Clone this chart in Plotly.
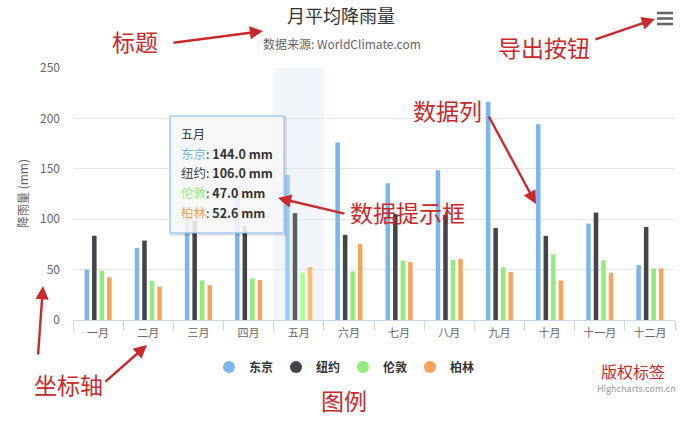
import plotly.graph_objects as go

# ---------------- data ----------------
months = ["一月", "二月", "三月", "四月", "五月", "六月",
          "七月", "八月", "九月", "十月", "十一月", "十二月"]
series_names = ["东京", "纽约", "伦敦", "柏林"]
tokyo = [49.9, 71.5, 106.4, 129.2, 144.0, 176.0, 135.6, 148.5, 216.4, 194.1, 95.6, 54.4]
new_york = [83.6, 78.8, 98.5, 93.4, 106.0, 84.5, 105.0, 104.3, 91.2, 83.5, 106.6, 92.3]
london = [48.9, 38.8, 39.3, 41.4, 47.0, 48.3, 59.0, 59.6, 52.4, 65.2, 59.3, 51.2]
berlin = [42.4, 33.2, 34.5, 39.7, 52.6, 75.5, 57.4, 60.4, 47.6, 39.1, 46.8, 51.1]
series_values = [tokyo, new_york, london, berlin]
y_tick_values = [0, 50, 100, 150, 200, 250]
hover_month = "五月"

title_text = "月平均降雨量"
subtitle_text = "数据来源: WorldClimate.com"
y_title_text = "降雨量 (mm)"
credits_text = "Highcharts.com.cn"
unit = "mm"

# callout labels (red annotations on the picture)
callouts = ["标题", "导出按钮", "数据列", "数据提示框", "坐标轴", "图例", "版权标签"]

# ---------------- style ----------------
colors = ["#7cb5ec", "#434348", "#90ed7d", "#f7a35c"]
hover_colors = ["#95ceff", "#5c5c61", "#a9ff96", "#ffbc75"]
FONT = "Noto Sans CJK SC, Noto Sans, sans-serif"
RED = "#c9282d"
W, H = 682, 423
L, R, T, B = 73, 675, 68, 320


def px(x):
    return (x - L) / (R - L)


def py(y):
    return (B - y) / (B - T)


hi = months.index(hover_month)

fig = go.Figure()
for name, vals, c, hc in zip(series_names, series_values, colors, hover_colors):
    bar_colors = [hc if i == hi else c for i in range(len(months))]
    fig.add_trace(go.Bar(x=months, y=vals, name=name, marker=dict(color=bar_colors, line=dict(width=0)),
                         showlegend=False, legendgroup=name, hoverinfo="skip"))
for name, c in zip(series_names, colors):
    fig.add_trace(go.Scatter(x=[None], y=[None], mode="markers", name="<b>" + name + "</b>",
                             marker=dict(color=c, size=12, symbol="circle"), legendgroup=name))

shapes = []
# hover crosshair band
shapes.append(dict(type="rect", xref="x", yref="paper", x0=hi - 0.5, x1=hi + 0.5, y0=0, y1=1,
                   fillcolor="rgba(204,214,235,0.25)", line=dict(width=0), layer="below"))
# export (hamburger) button
for yy in [13, 18.5, 24]:
    shapes.append(dict(type="line", xref="paper", yref="paper", x0=px(657), x1=px(673),
                       y0=py(yy), y1=py(yy), line=dict(color="#666666", width=2.6)))
# tooltip shadow + box
shapes.append(dict(type="rect", xref="paper", yref="paper", x0=px(171.5), x1=px(285.5),
                   y0=py(234.5), y1=py(117.5), fillcolor="rgba(0,0,0,0)",
                   line=dict(color="rgba(0,0,0,0.10)", width=3), layer="above"))
shapes.append(dict(type="rect", xref="paper", yref="paper", x0=px(170), x1=px(284),
                   y0=py(233), y1=py(116), fillcolor="rgba(247,247,247,0.88)",
                   line=dict(color="#7cb5ec", width=1), layer="above"))

ann = []
# title / subtitle
ann.append(dict(text=title_text, x=px(341), y=py(15), xref="paper", yref="paper", showarrow=False,
                xanchor="center", yanchor="middle", font=dict(size=18, color="#333333", family=FONT)))
ann.append(dict(text=subtitle_text, x=px(342), y=py(44), xref="paper", yref="paper", showarrow=False,
                xanchor="center", yanchor="middle", font=dict(size=12, color="#666666", family=FONT)))
# y axis title
ann.append(dict(text=y_title_text, x=px(22), y=py(194), xref="paper", yref="paper", showarrow=False,
                textangle=-90, xanchor="center", yanchor="middle",
                font=dict(size=12, color="#666666", family=FONT)))
# credits
ann.append(dict(text=credits_text, x=px(678), y=py(388), xref="paper", yref="paper", showarrow=False,
                xanchor="right", yanchor="middle", font=dict(size=9, color="#999999", family=FONT)))

# tooltip text
ann.append(dict(text=hover_month, x=px(179), y=py(133), xref="paper", yref="paper", showarrow=False,
                xanchor="left", yanchor="middle", font=dict(size=12, color="#333333", family=FONT)))
for k, (name, vals, c) in enumerate(zip(series_names, series_values, colors)):
    txt = "<span style='color:%s'>%s</span>: <b>%.1f %s</b>" % (c, name, vals[hi], unit)
    ann.append(dict(text=txt, x=px(179), y=py(153 + 19.8 * k), xref="paper", yref="paper",
                    showarrow=False, xanchor="left", yanchor="middle",
                    font=dict(size=12.5, color="#333333", family=FONT)))

# red callout labels
label_pos = {"标题": (135, 41), "导出按钮": (544, 47), "数据列": (447, 110), "数据提示框": (407, 212),
             "坐标轴": (68, 384), "图例": (344, 400), "版权标签": (633, 371)}
for lab in callouts:
    x, y = label_pos[lab]
    size = 16 if lab == "版权标签" else 23
    ann.append(dict(text=lab, x=px(x), y=py(y), xref="paper", yref="paper", showarrow=False,
                    xanchor="center", yanchor="middle", font=dict(size=size, color=RED, family=FONT)))

# arrows: (head_x, head_y, tail_x, tail_y)
arrows = [(263, 31, 172, 43), (655, 19, 594, 40), (536, 204, 488, 115), (278, 198, 346, 214),
          (147, 345, 104, 383), (43, 286, 38, 356)]
for hx, hy, tx, ty in arrows:
    ann.append(dict(text="", x=px(hx), y=py(hy), xref="paper", yref="paper", showarrow=True,
                    ax=tx - hx, ay=ty - hy, axref="pixel", ayref="pixel",
                    arrowhead=2, arrowsize=1.1, arrowwidth=2.4, arrowcolor=RED))

fig.update_layout(
    width=W, height=H,
    margin=dict(l=L, r=W - R, t=T, b=H - B, pad=0),
    paper_bgcolor="white", plot_bgcolor="white",
    font=dict(family=FONT, color="#666666", size=11),
    barmode="group", bargap=0.4, bargroupgap=0.4,
    showlegend=True,
    legend=dict(orientation="h", x=px(209), xanchor="left", y=py(367), yanchor="middle",
                font=dict(size=12, color="#333333", family=FONT), bgcolor="rgba(0,0,0,0)",
                entrywidth=22, entrywidthmode="pixels", itemwidth=30),
    shapes=shapes, annotations=ann,
    xaxis=dict(type="category", categoryorder="array", categoryarray=months,
               showline=True, linecolor="#ccd6eb", linewidth=1,
               ticks="outside", tickson="boundaries", ticklen=10, tickcolor="#ccd6eb",
               showgrid=False, tickfont=dict(size=11, color="#666666", family=FONT),
               ticklabelstandoff=3, fixedrange=True),
    yaxis=dict(range=[0, 250], tickvals=y_tick_values, showgrid=True, gridcolor="#e6e6e6",
               gridwidth=1, zeroline=False, showline=False, ticks="",
               tickfont=dict(size=12, color="#666666", family=FONT), ticklabelstandoff=12,
               fixedrange=True),
)

fig.write_html("out.html")
